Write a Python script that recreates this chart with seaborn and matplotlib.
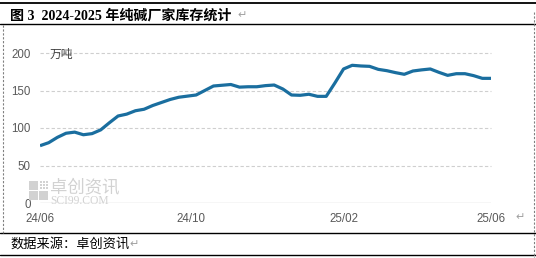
import numpy as np
import pandas as pd
import matplotlib
matplotlib.use("Agg")
import matplotlib.pyplot as plt
import matplotlib.dates as mdates
from matplotlib.patches import Rectangle
from matplotlib.lines import Line2D
import seaborn as sns

# ---- data ----
start_date = "2024-06-06"
n_weeks = 53
inventory = [76.4, 80.4, 87.5, 93.0, 94.5, 91.0, 92.5, 97.5, 107.0, 116.0,
             118.5, 123.0, 125.0, 130.0, 134.0, 138.0, 141.0, 142.5, 144.0, 150.0,
             156.0, 157.0, 158.0, 154.5, 155.0, 155.0, 156.5, 157.3, 152.0, 144.0,
             143.6, 145.0, 142.2, 142.2, 160.0, 178.7, 183.6, 182.7, 182.2, 178.2,
             176.4, 173.8, 171.6, 176.0, 177.5, 178.7, 174.2, 170.2, 172.4, 172.4,
             169.8, 166.2, 166.2]
tick_dates = ["2024-06-06", "2024-10-06", "2025-02-06", "2025-06-05"]
tick_labels = ["24/06", "24/10", "25/02", "25/06"]
y_ticks = [0, 50, 100, 150, 200]
title = "图 3  2024-2025 年纯碱厂家库存统计"
unit = "万吨"
source = "数据来源：卓创资讯"

dates = pd.date_range(start_date, periods=n_weeks, freq="7D")
df = pd.DataFrame({"date": dates, "value": inventory})

sns.set_theme(style="white")
plt.rcParams["font.family"] = ["Noto Sans CJK SC", "DejaVu Sans"]

W, H = 536, 258
fig = plt.figure(figsize=(W / 100, H / 100), dpi=100)

def fx(x):
    return x / W

def fy(y):
    return 1 - y / H

ax_l, ax_r, ax_b, ax_t = 40, 491, 203, 53
ax = fig.add_axes([fx(ax_l), fy(ax_b), (ax_r - ax_l) / W, (ax_b - ax_t) / H])
ax.set_facecolor("none")

sns.lineplot(data=df, x="date", y="value", ax=ax, color="#1a6e9f",
             linewidth=2.3, solid_joinstyle="round", solid_capstyle="butt", zorder=3)

ax.set_ylim(0, 200)
ax.set_xlim(dates[0], dates[-1])
for v in y_ticks[1:]:
    ax.axhline(v, color="#cfcfcf", linewidth=0.8, linestyle=(0, (3, 2)), zorder=1, clip_on=False)
ax.axhline(0, color="#d4d4d4", linewidth=1.0, zorder=1)

for s in ax.spines.values():
    s.set_visible(False)
ax.set_yticks(y_ticks)
ax.set_yticklabels([str(v) for v in y_ticks])
ax.set_xticks(pd.to_datetime(tick_dates))
ax.set_xticklabels(tick_labels)
ax.tick_params(axis="both", length=0, labelsize=8.3, labelcolor="#595959")
ax.tick_params(axis="y", pad=6.5)
ax.tick_params(axis="x", pad=7)
for lab in ax.get_xticklabels() + ax.get_yticklabels():
    lab.set_fontfamily(["Liberation Sans", "DejaVu Sans"])
ax.set_xlabel("")
ax.set_ylabel("")

# unit label
fig.text(fx(50), fy(54), unit, fontsize=8.5, color="#404040", va="center", ha="left")

# frame lines
fig.add_artist(Line2D([fx(0), fx(536)], [fy(3.3), fy(3.3)], color="black", linewidth=1.3))
fig.add_artist(Line2D([fx(0), fx(536)], [fy(24.3), fy(24.3)], color="black", linewidth=1.0))
fig.add_artist(Line2D([fx(0), fx(536)], [fy(233.3), fy(233.3)], color="black", linewidth=1.0))
fig.add_artist(Line2D([fx(0), fx(536)], [fy(255), fy(255)], color="black", linewidth=1.0))
fig.add_artist(Line2D([fx(2.5), fx(2.5)], [fy(25), fy(233)], color="#808080",
                      linewidth=0.8, linestyle=(0, (2, 1.5))))
fig.add_artist(Line2D([fx(534.3), fx(534.3)], [fy(12), fy(258)], color="#808080",
                      linewidth=0.8, linestyle=(0, (2, 1.5))))

# title & footer
fig.text(fx(10), fy(16), title, fontsize=10.1, fontweight="bold", color="black",
         va="center", ha="left", family=["Liberation Serif", "Noto Sans CJK SC", "DejaVu Sans"])
fig.text(fx(237), fy(15), "↵", fontsize=8, color="#a0a0a0", va="center", ha="left",
         family=["DejaVu Sans"])
fig.text(fx(10), fy(244), source, fontsize=9.5, color="black", va="center", ha="left")
fig.text(fx(129), fy(244), "↵", fontsize=8, color="#a0a0a0", va="center", ha="left",
         family=["DejaVu Sans"])
fig.text(fx(515), fy(217), "↵", fontsize=8, color="#a0a0a0", va="center", ha="left",
         family=["DejaVu Sans"])

# watermark
wm = "#d2d2d2"
for (x0, y0) in [(29, 181), (29, 191), (39, 191)]:
    fig.add_artist(Rectangle((fx(x0), fy(y0 + 9)), 9 / W, 9 / H, color=wm, linewidth=0))
for i in range(3):
    for j in range(3):
        fig.add_artist(Rectangle((fx(40 + 3 * i), fy(183 + 3 * j)), 1.6 / W, 1.6 / H,
                                 color=wm, linewidth=0))
fig.text(fx(50), fy(187.5), "卓创资讯", fontsize=12.5, color=wm, va="center", ha="left")
fig.text(fx(50), fy(201.5), "SCI99.COM", fontsize=8.3, color=wm, va="center", ha="left",
         family=["Liberation Serif", "DejaVu Serif"])

fig.savefig("out.png", dpi=100)
